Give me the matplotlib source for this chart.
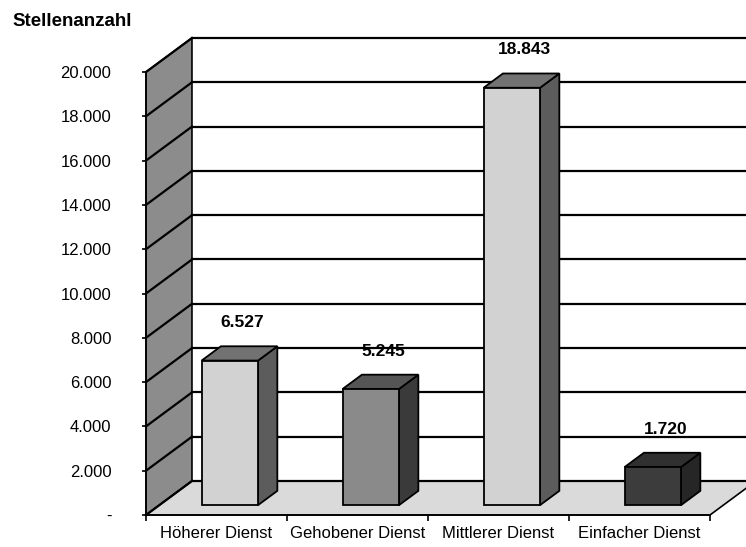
import matplotlib.pyplot as plt
from matplotlib.patches import Polygon

plt.rcParams['font.family'] = ['Liberation Sans', 'DejaVu Sans']

# Daten
categories = ['Höherer Dienst', 'Gehobener Dienst', 'Mittlerer Dienst', 'Einfacher Dienst']
stellen = [6527, 5245, 18843, 1720]
value_labels = ['6.527', '5.245', '18.843', '1.720']
y_ticks = [0, 2000, 4000, 6000, 8000, 10000, 12000, 14000, 16000, 18000, 20000]
y_tick_labels = ['-', '2.000', '4.000', '6.000', '8.000', '10.000', '12.000',
                 '14.000', '16.000', '18.000', '20.000']

# Farben (front, side, top) je Balken
front_colors = ['#d2d2d2', '#8a8a8a', '#d2d2d2', '#3c3c3c']
side_colors = ['#5c5c5c', '#3a3a3a', '#5c5c5c', '#262626']
top_colors = ['#727272', '#555555', '#727272', '#303030']

ymax = 20000
xmin, xmax = -0.5, len(categories) - 0.5
# 3D-Tiefe in Datenkoordinaten
DX = 0.326
DY = 1535
bar_w = 0.40
d0, d1 = 0.29, 0.71


def proj(x, y, d):
    return (x + d * DX, y + d * DY)


fig = plt.figure(figsize=(7.46, 5.47), dpi=100)
ax = fig.add_axes([146 / 746, 32 / 547, 564 / 746, 443 / 547])
ax.set_xlim(xmin, xmax)
ax.set_ylim(0, ymax)
ax.patch.set_visible(False)

# linke Wand
left_wall = Polygon([proj(xmin, 0, 0), proj(xmin, ymax, 0), proj(xmin, ymax, 1), proj(xmin, 0, 1)],
                    closed=True, facecolor='#8c8c8c', edgecolor='black', lw=1.2,
                    clip_on=False, zorder=1)
ax.add_patch(left_wall)

# Boden
floor = Polygon([proj(xmin, 0, 0), proj(xmax, 0, 0), proj(xmax, 0, 1), proj(xmin, 0, 1)],
                closed=True, facecolor='#dadada', edgecolor='black', lw=1.2,
                clip_on=False, zorder=1)
ax.add_patch(floor)

# Gitterlinien auf Rückwand und linker Wand
for v in y_ticks:
    xa, ya = proj(xmin, v, 1)
    xb, yb = proj(xmax, v, 1)
    ax.plot([xa, xb], [ya, yb], color='black', lw=1.6, clip_on=False, zorder=2)
    xc, yc = proj(xmin, v, 0)
    ax.plot([xc, xa], [yc, ya], color='black', lw=1.6, clip_on=False, zorder=2)

# Balken
for i, v in enumerate(stellen):
    x0, x1 = i - bar_w / 2, i + bar_w / 2
    side = Polygon([proj(x1, 0, d0), proj(x1, 0, d1), proj(x1, v, d1), proj(x1, v, d0)],
                   closed=True, facecolor=side_colors[i], edgecolor='black', lw=1.3,
                   clip_on=False, zorder=3)
    top = Polygon([proj(x0, v, d0), proj(x1, v, d0), proj(x1, v, d1), proj(x0, v, d1)],
                  closed=True, facecolor=top_colors[i], edgecolor='black', lw=1.3,
                  clip_on=False, zorder=3)
    front = Polygon([proj(x0, 0, d0), proj(x1, 0, d0), proj(x1, v, d0), proj(x0, v, d0)],
                    closed=True, facecolor=front_colors[i], edgecolor='black', lw=1.3,
                    clip_on=False, zorder=4)
    ax.add_patch(side)
    ax.add_patch(top)
    ax.add_patch(front)
    lx, ly = proj(i, v, 0.5)
    _, ly = proj(i, v, d1)
    ax.annotate(value_labels[i], xy=(lx, ly), xytext=(2, 17),
                textcoords='offset points', ha='center', va='center',
                fontsize=12.5, fontweight='bold', annotation_clip=False, zorder=5)

# Achsen
for s in ['top', 'right']:
    ax.spines[s].set_visible(False)
ax.spines['left'].set_linewidth(1.2)
ax.spines['bottom'].set_linewidth(1.2)
ax.spines['left'].set_zorder(2)
ax.spines['bottom'].set_zorder(2)

ax.set_yticks(y_ticks)
ax.set_yticklabels(y_tick_labels)
ax.tick_params(axis='y', direction='out', length=3, width=1.2, pad=22, labelsize=12)

ax.set_xticks([xmin + k for k in range(len(categories) + 1)])
ax.set_xticklabels([])
ax.tick_params(axis='x', which='major', direction='out', length=4, width=1.2)
ax.set_xticks(range(len(categories)), minor=True)
ax.set_xticklabels(categories, minor=True)
ax.tick_params(axis='x', which='minor', length=0, pad=8, labelsize=12)

fig.text(12 / 746, 1 - 22 / 547, 'Stellenanzahl', fontsize=13.5, fontweight='bold',
         ha='left', va='center')

fig.savefig('out.png', dpi=100)
